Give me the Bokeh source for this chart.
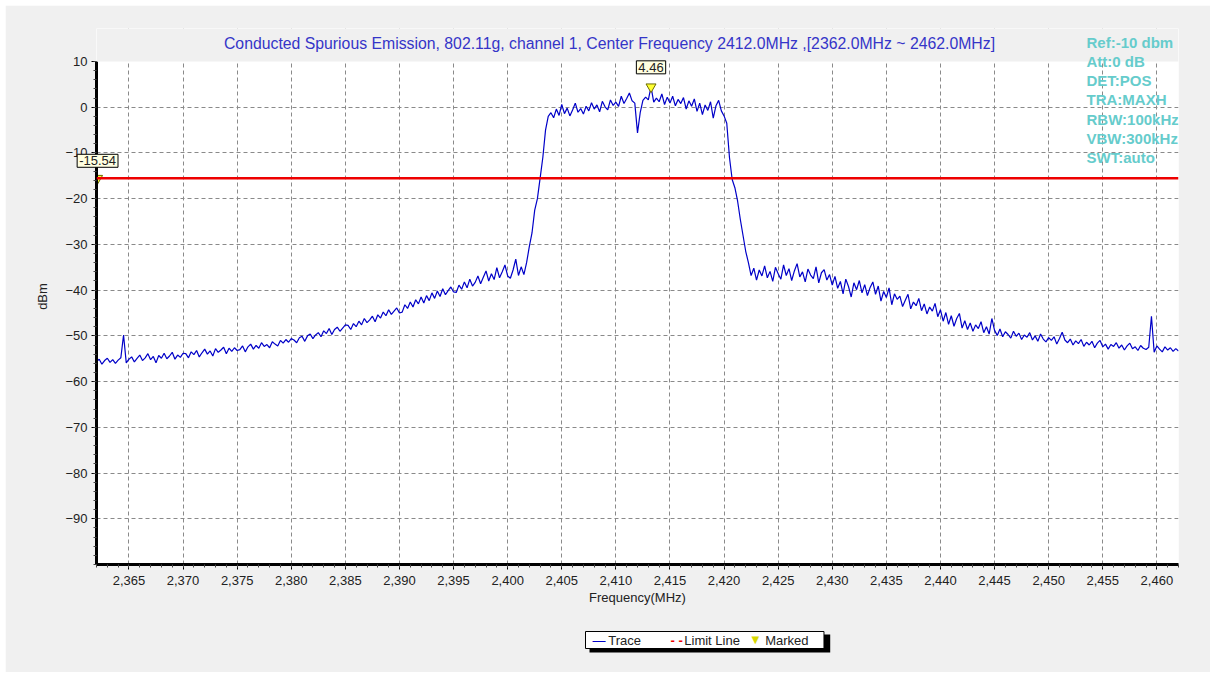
from bokeh.plotting import figure
from bokeh.models import (Label, Span, FixedTicker, NumeralTickFormatter,
                          BoxAnnotation, ColumnDataSource, Range1d)
from bokeh.embed import file_html
from bokeh.resources import INLINE

# ---------------- data (dBm, sampled every 0.25 MHz) ----------------
f_step = 0.25

lower_wing_start = 2362.0
lower_wing_dbm = [
    -55.6, -55.1, -56.2, -55.4, -54.9, -55.8, -55.2, -56.0, -55.3,
    -54.8, -49.8, -55.9, -55.1,
    -54.6, -55.7, -54.9, -54.2, -55.4, -54.8, -53.9, -55.2, -54.5, -55.9,
    -54.3, -54.9, -53.8, -55.0, -54.4, -53.6, -55.1, -54.2, -54.7, -53.8,
    -53.9, -54.8, -53.5, -54.1, -53.2, -54.6, -53.7, -52.9, -54.0, -53.3,
    -54.4, -52.8, -53.6, -53.1, -52.5, -53.9, -52.7, -53.4, -52.6, -53.2,
    -53.0, -52.2, -53.5, -52.4, -51.8, -52.9, -52.1, -52.7, -51.5, -52.3,
    -51.9, -52.6, -51.3, -51.8, -52.2, -51.0, -51.6, -50.8, -51.4, -50.6,
    -50.9, -51.5, -50.4, -50.1, -51.2, -50.0, -49.6, -50.6, -49.8, -49.3,
    -50.2, -48.9, -49.5, -48.4, -49.7, -48.6, -48.1, -49.0, -48.3, -47.6,
    -47.7, -48.6, -47.3, -48.0, -46.8, -47.6, -46.2, -47.1, -46.5, -45.7,
    -46.9, -45.4, -46.1, -44.8, -45.6, -44.3, -45.3, -44.6, -43.9, -45.0,
    -44.8, -43.2, -44.0, -42.6, -43.7, -42.1, -43.0, -41.5, -42.8, -41.2,
    -42.3, -40.6, -41.8, -40.2, -41.4, -39.7, -41.0, -40.1, -39.3, -40.4,
    -40.5, -38.9, -39.8, -38.2, -39.5, -37.6, -39.1, -38.3, -36.9, -38.6,
    -37.2, -35.8, -38.0, -36.4, -37.7, -35.1, -37.3, -36.0, -34.5, -36.9,
    -37.4, -35.6, -33.2, -36.8, -34.9, -36.6,
]

channel_start = 2401.75
channel_dbm = [
    -34.0, -30.5, -27.5, -22.5, -20.0, -15.5, -11.0, -5.0, -2.0,
    -1.2, -2.3, -0.4, -1.8, 0.6, -1.4, -0.2, -1.9,
    -0.6, 0.9, -1.1, -0.3, -1.5, 0.2, -0.8, 1.0,
    -0.4, 0.5, -1.0, 1.3, 0.1, -0.6, 1.6, 0.4,
    1.1, 0.2, 2.4, 0.8, 1.9, 3.1, 1.4, 0.9,
    -5.6, -1.2, 1.5, 2.2, 1.6, 4.46, 1.1, 2.0,
    1.2, 2.9, 0.6, 2.2, 0.9, 2.4, 0.3, 1.7,
    0.8, 2.1, -0.4, 1.4, 0.2, 1.8, -0.9, 0.9,
    -1.6, 0.5, -0.7, 1.2, -2.4, 0.3, 1.5, -0.8,
    -1.9,
    -3.5, -11.0, -15.8, -17.6, -20.5, -24.5, -28.0, -31.5, -34.0, -36.8,
]

upper_wing_start = 2422.75
upper_wing_dbm = [
    -35.2, -37.8, -35.6, -36.9, -34.7, -37.3, -35.9, -38.1, -35.0, -36.4,
    -37.6, -34.5, -36.8, -35.3, -37.9, -35.8, -34.2, -37.1, -36.0, -38.2,
    -35.4, -36.7, -37.5, -34.9, -38.4, -36.2, -35.5, -37.8, -36.6, -38.9,
    -37.0, -39.6, -38.1, -40.8, -37.6, -39.2, -41.5, -38.4,
    -39.9, -37.9, -40.6, -38.8, -41.2, -39.4, -38.2, -40.9,
    -39.1, -42.4, -40.3, -41.6, -39.5, -43.2, -40.8, -42.0,
    -41.3, -43.6, -42.2, -40.9, -44.1, -42.6, -43.4, -41.8,
    -44.5, -43.0, -45.2, -43.7, -44.6, -42.9, -45.8, -44.3,
    -46.8, -44.9, -47.5, -45.6, -47.9, -46.2, -45.1, -48.3,
    -46.7, -48.6, -47.2, -49.0, -47.6, -48.4, -46.9, -49.3,
    -48.0, -49.6, -46.2, -48.8, -49.9, -48.5, -50.2, -49.1,
    -49.7, -50.5, -49.0, -50.1, -49.4, -50.8, -49.8, -50.3,
    -49.3, -50.9, -50.0, -51.2, -49.6, -50.7, -51.3, -50.4,
    -51.0, -50.2, -51.8, -50.6, -49.2, -50.9, -51.5, -50.7,
    -52.0, -51.1, -51.7, -50.8, -52.3, -51.4, -52.0, -51.2,
    -52.6, -51.6, -51.0, -52.4, -51.8, -52.9, -51.9, -52.3,
    -51.5, -52.7, -52.0, -53.1, -52.2, -51.6, -52.8, -52.4,
    -53.2, -52.1, -52.7, -53.0, -52.5, -45.7, -53.6, -52.2,
    -52.9, -53.5, -52.4, -53.1, -52.6, -53.4, -52.8, -53.3,
]

limit_dbm = -15.54
marker_freq = [2413.25, 2362.1]
marker_dbm = [4.46, -15.54]
marker_text = ["4.46", "-15.54"]

y_ticks = [10, 0, -10, -20, -30, -40, -50, -60, -70, -80, -90]
x_ticks = [2365, 2370, 2375, 2380, 2385, 2390, 2395, 2400, 2405, 2410, 2415,
           2420, 2425, 2430, 2435, 2440, 2445, 2450, 2455, 2460]

title_text = ("Conducted Spurious Emission, 802.11g, channel 1, Center Frequency "
              "2412.0MHz ,[2362.0MHz ~ 2462.0MHz]")
info_lines = ["Ref:-10 dbm", "Att:0 dB", "DET:POS", "TRA:MAXH",
              "RBW:100kHz", "VBW:300kHz", "SWT:auto"]
legend_labels = ["Trace", "Limit Line", "Marked"]

# ---------------- assemble trace ----------------
freq_mhz, trace_dbm = [], []
for start, seg in ((lower_wing_start, lower_wing_dbm),
                   (channel_start, channel_dbm),
                   (upper_wing_start, upper_wing_dbm)):
    freq_mhz += [start + f_step * i for i in range(len(seg))]
    trace_dbm += seg

FONT = "Liberation Sans"
TRACE_COLOR = "#0000c8"
LIMIT_COLOR = "#ee0000"
MARK_FILL = "#ffff33"
Y_MIN, Y_MAX = -100, 10
Y_TOP = 17.216   # frame extends above the plot area for the header texts
OFF = 5          # page offset of the canvas (white page border)

p = figure(width=1205, height=667, output_backend="svg", toolbar_location=None,
           x_range=Range1d(2362, 2462), y_range=Range1d(Y_MIN, Y_TOP),
           min_border_left=91, min_border_right=32, min_border_top=23,
           min_border_bottom=108)
p.margin = (OFF, 0, 0, OFF)
p.background_fill_color = "white"
p.border_fill_color = "#f0f0f0"
p.outline_line_color = None

for ax in (p.xaxis[0], p.yaxis[0]):
    ax.axis_line_color = "black"
    ax.axis_line_width = 3
    ax.major_tick_line_color = "black"
    ax.minor_tick_line_color = "#444444"
    ax.major_tick_out = 5
    ax.major_tick_in = 0
    ax.minor_tick_out = 3
    ax.minor_tick_in = 0
    ax.major_label_text_font = FONT
    ax.major_label_text_font_size = "13px"
    ax.major_label_text_color = "#222222"
    ax.axis_label_text_font = FONT
    ax.axis_label_text_font_size = "13px"
    ax.axis_label_text_font_style = "normal"
    ax.axis_label_text_color = "#222222"

p.xaxis.ticker = FixedTicker(ticks=x_ticks,
                             minor_ticks=[2362 + i for i in range(101)])
p.xaxis.formatter = NumeralTickFormatter(format="0,0")
p.xaxis.axis_label = "Frequency(MHz)"
p.xaxis.major_label_standoff = 6
p.xaxis.axis_label_standoff = 2

p.yaxis.ticker = FixedTicker(ticks=y_ticks,
                             minor_ticks=[-100 + 2 * i for i in range(56)])
p.yaxis.bounds = (Y_MIN, Y_MAX)
p.yaxis.axis_label = "dBm"
p.yaxis.major_label_standoff = 4
p.yaxis.axis_label_standoff = 12

p.xgrid.ticker = FixedTicker(ticks=x_ticks)
p.ygrid.ticker = FixedTicker(ticks=y_ticks[1:])
for g in (p.xgrid[0], p.ygrid[0]):
    g.grid_line_color = "#8a8a8a"
    g.grid_line_dash = "4 3"
    g.grid_line_width = 1

# limit line
p.add_layout(Span(location=limit_dbm, dimension="width", line_color=LIMIT_COLOR,
                  line_width=2.5))

src = ColumnDataSource(dict(f=freq_mhz, v=trace_dbm))
p.line("f", "v", source=src, line_color=TRACE_COLOR, line_width=1.2)

msrc = ColumnDataSource(dict(f=marker_freq, v=marker_dbm, t=marker_text))
p.scatter("f", "v", source=msrc, marker="inverted_triangle", size=10,
          fill_color=MARK_FILL, line_color="#6b6b00", line_width=1)

# grey cover over the part of the frame above the plot area (holds header texts)
p.add_layout(BoxAnnotation(bottom=Y_MAX, fill_color="#f0f0f0", fill_alpha=1,
                           line_color=None))

# marker value boxes
p.add_layout(Label(x=marker_freq[0], y=marker_dbm[0], text=marker_text[0],
                   y_offset=13, text_align="center", text_baseline="bottom",
                   text_font=FONT, text_font_size="13px", text_color="#222222",
                   background_fill_color="#ffffe1", border_line_color="black",
                   border_line_width=1, padding=2))
p.add_layout(Label(x=marker_freq[1], y=marker_dbm[1], text=marker_text[1],
                   y_offset=11, text_align="center", text_baseline="bottom",
                   text_font=FONT, text_font_size="13px", text_color="#222222",
                   background_fill_color="#ffffe1", border_line_color="black",
                   border_line_width=1, padding=2), "above")

# title
p.add_layout(Label(x=513, y=521, x_units="screen", y_units="screen",
                   text=title_text, text_align="center", text_baseline="middle",
                   text_font=FONT, text_font_size="15.8px", text_color="#3535c8"))

# instrument info (top right)
for i, line in enumerate(info_lines):
    p.add_layout(Label(x=990, y=531 - 19.3 * i, x_units="screen", y_units="screen",
                       text=line, text_align="left", text_baseline="top",
                       text_font=FONT, text_font_size="15px",
                       text_font_style="bold", text_color="#66cccc"))

# ---------------- legend box (below the axis) ----------------
NB = "\u00a0"
p.add_layout(Label(x=589 - OFF, y=634 - OFF, x_units="canvas", y_units="canvas",
                   text=NB * 71, text_align="left", text_baseline="top",
                   text_font=FONT, text_font_size="12px", text_color="black",
                   background_fill_color="black", padding=2), "below")
legend_text = (NB * 6 + legend_labels[0] + NB * 12 + legend_labels[1]
               + NB * 7 + legend_labels[2] + NB * 4)
p.add_layout(Label(x=585 - OFF, y=631 - OFF, x_units="canvas", y_units="canvas",
                   text=legend_text, text_align="left", text_baseline="top",
                   text_font=FONT, text_font_size="13px", text_color="#222222",
                   background_fill_color="white", border_line_color="black",
                   border_line_width=1, padding=1), "below")
# legend glyphs
p.add_layout(Label(x=592 - OFF, y=640 - OFF, x_units="canvas", y_units="canvas",
                   text="\u2014", text_align="left", text_baseline="middle",
                   text_font=FONT, text_font_size="13px", text_color=TRACE_COLOR),
             "left")
p.add_layout(Label(x=670 - OFF, y=640 - OFF, x_units="canvas", y_units="canvas",
                   text="- -", text_align="left", text_baseline="middle",
                   text_font=FONT, text_font_size="13px", text_font_style="bold",
                   text_color=LIMIT_COLOR), "left")
p.add_layout(Label(x=751 - OFF, y=639 - OFF, x_units="canvas", y_units="canvas",
                   text="\u25bc", text_align="left", text_baseline="middle",
                   text_font="DejaVu Sans", text_font_size="10px",
                   text_color="#d8d800"), "right")

open("out.html", "w").write(file_html(p, INLINE))
